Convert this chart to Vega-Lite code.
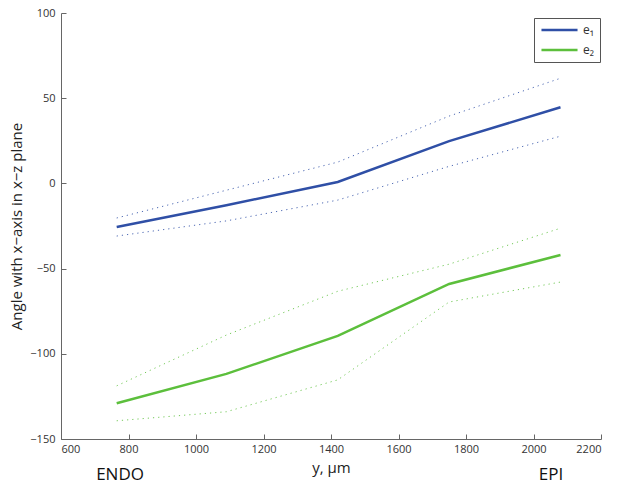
{
  "$schema": "https://vega.github.io/schema/vega-lite/v6.json",
  "autosize": "none",
  "width": 540,
  "height": 426,
  "padding": {"left": 61, "top": 13, "right": 23, "bottom": 52},
  "background": "white",
  "config": {
    "view": {"stroke": null},
    "font": "Open Sans",
    "axis": {
      "grid": false,
      "domainColor": "#666666",
      "tickColor": "#666666",
      "tickSize": -5,
      "labelColor": "#333333",
      "labelFontSize": 11,
      "labelFont": "Open Sans",
      "titleFont": "Open Sans",
      "titleFontWeight": "normal",
      "titleColor": "#222222",
      "titleFontSize": 15,
      "format": "d"
    }
  },
  "datasets": {
    "curves": [
      {"pos": 765, "angle": -25.6, "series": "e₁", "kind": "mean"},
      {"pos": 1090, "angle": -12.8, "series": "e₁", "kind": "mean"},
      {"pos": 1420, "angle": 0.8, "series": "e₁", "kind": "mean"},
      {"pos": 1750, "angle": 24.8, "series": "e₁", "kind": "mean"},
      {"pos": 2080, "angle": 44.7, "series": "e₁", "kind": "mean"},
      {"pos": 765, "angle": -20.3, "series": "e₁", "kind": "upper"},
      {"pos": 1090, "angle": -4, "series": "e₁", "kind": "upper"},
      {"pos": 1420, "angle": 12.5, "series": "e₁", "kind": "upper"},
      {"pos": 1750, "angle": 39.5, "series": "e₁", "kind": "upper"},
      {"pos": 2080, "angle": 61.7, "series": "e₁", "kind": "upper"},
      {"pos": 765, "angle": -30.9, "series": "e₁", "kind": "lower"},
      {"pos": 1090, "angle": -22, "series": "e₁", "kind": "lower"},
      {"pos": 1420, "angle": -9.8, "series": "e₁", "kind": "lower"},
      {"pos": 1750, "angle": 10, "series": "e₁", "kind": "lower"},
      {"pos": 2080, "angle": 27.7, "series": "e₁", "kind": "lower"},
      {"pos": 765, "angle": -129, "series": "e₂", "kind": "mean"},
      {"pos": 1090, "angle": -111.8, "series": "e₂", "kind": "mean"},
      {"pos": 1420, "angle": -89.5, "series": "e₂", "kind": "mean"},
      {"pos": 1750, "angle": -59, "series": "e₂", "kind": "mean"},
      {"pos": 2080, "angle": -42, "series": "e₂", "kind": "mean"},
      {"pos": 765, "angle": -118.8, "series": "e₂", "kind": "upper"},
      {"pos": 1090, "angle": -89, "series": "e₂", "kind": "upper"},
      {"pos": 1420, "angle": -63.3, "series": "e₂", "kind": "upper"},
      {"pos": 1750, "angle": -47.4, "series": "e₂", "kind": "upper"},
      {"pos": 2080, "angle": -26.3, "series": "e₂", "kind": "upper"},
      {"pos": 765, "angle": -139.3, "series": "e₂", "kind": "lower"},
      {"pos": 1090, "angle": -134, "series": "e₂", "kind": "lower"},
      {"pos": 1420, "angle": -115.3, "series": "e₂", "kind": "lower"},
      {"pos": 1750, "angle": -69.6, "series": "e₂", "kind": "lower"},
      {"pos": 2080, "angle": -57.9, "series": "e₂", "kind": "lower"}
    ],
    "ends": [
      {"pos": 775, "angle": -171, "label": "ENDO"},
      {"pos": 2052, "angle": -171, "label": "EPI"}
    ]
  },
  "resolve": {"scale": {"color": "independent"}},
  "layer": [
    {
      "data": {"name": "curves"},
      "transform": [{"filter": "datum.kind !== 'mean'"}],
      "mark": {"type": "line", "strokeWidth": 1, "strokeDash": [1.2, 4], "opacity": 0.85},
      "encoding": {
        "x": {"field": "pos", "type": "quantitative", "scale": {"domain": [600, 2200], "nice": false, "zero": false},
          "axis": {"values": [600, 800, 1000, 1200, 1400, 1600, 1800, 2000, 2200], "title": "y, μm", "labelPadding": 9, "titlePadding": 6}},
        "y": {"field": "angle", "type": "quantitative", "scale": {"domain": [-150, 100], "nice": false, "zero": false},
          "axis": {"values": [-150, -100, -50, 0, 50, 100], "title": "Angle with x−axis in x−z plane", "labelPadding": 11, "titlePadding": 5}},
        "color": {"field": "series", "type": "nominal", "scale": {"domain": ["e₁", "e₂"], "range": ["#2F4FA6", "#5CBF3C"]}, "legend": null},
        "detail": {"field": "kind"}
      }
    },
    {
      "data": {"name": "curves"},
      "transform": [{"filter": "datum.kind === 'mean'"}],
      "mark": {"type": "line", "strokeWidth": 2.5},
      "encoding": {
        "x": {"field": "pos", "type": "quantitative"},
        "y": {"field": "angle", "type": "quantitative"},
        "color": {"field": "series", "type": "nominal",
          "scale": {"domain": ["e₁", "e₂"], "range": ["#2F4FA6", "#5CBF3C"]},
          "legend": {"title": null, "orient": "none", "legendX": 473, "legendY": 5, "symbolType": "stroke", "symbolSize": 1300, "symbolStrokeWidth": 2.5, "clipHeight": 12, "labelFontSize": 12, "labelColor": "#333333", "strokeColor": "#555555", "fillColor": "white", "padding": 6, "rowPadding": 8, "labelOffset": 4}}
      }
    },
    {
      "data": {"name": "ends"},
      "mark": {"type": "text", "fontSize": 17, "font": "Open Sans", "color": "#111111", "clip": false, "baseline": "middle"},
      "encoding": {
        "x": {"field": "pos", "type": "quantitative"},
        "y": {"field": "angle", "type": "quantitative"},
        "text": {"field": "label"}
      }
    }
  ]
}
